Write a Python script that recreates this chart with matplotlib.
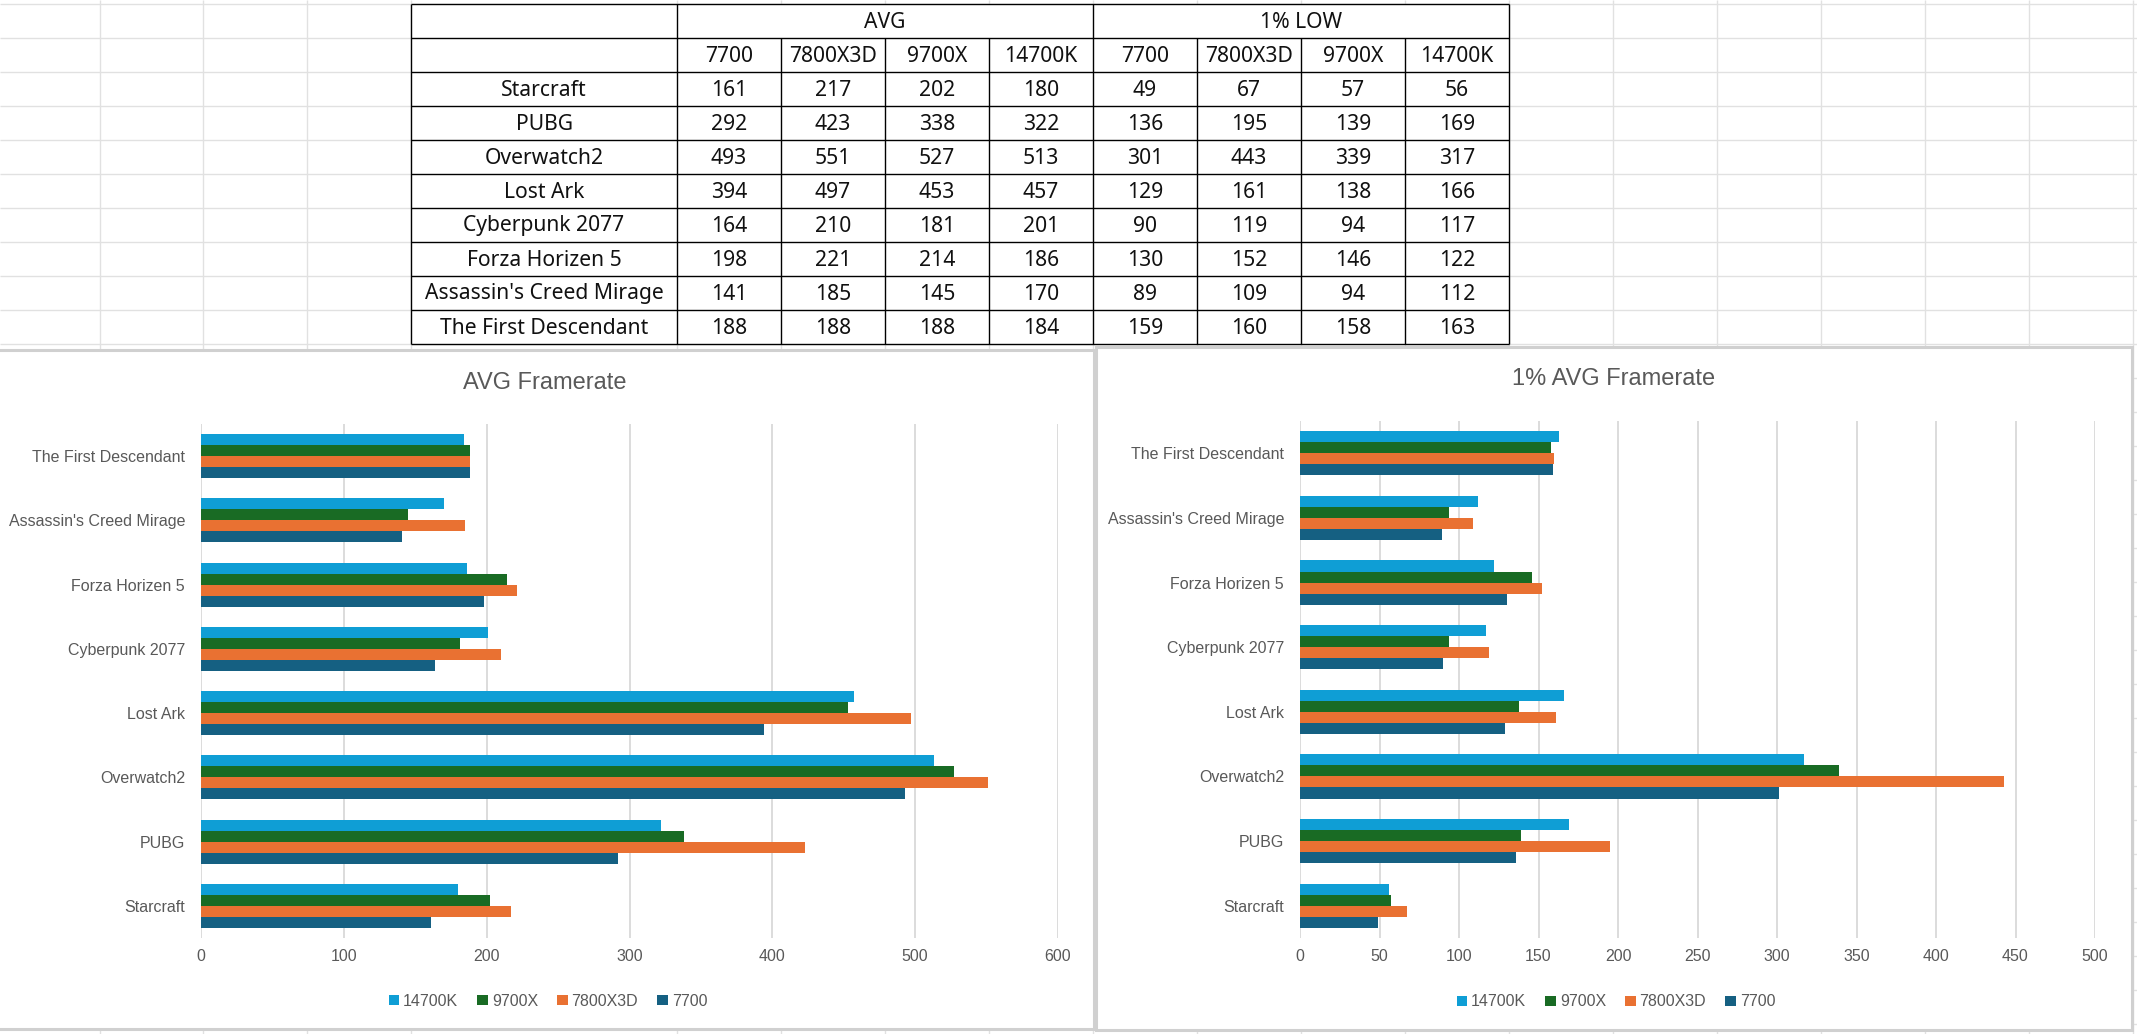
import matplotlib
matplotlib.use("Agg")
import matplotlib.pyplot as plt
from matplotlib.patches import Rectangle, Patch
from matplotlib import font_manager as fm
import numpy as np

# ---------------- data ----------------
games = ["Starcraft", "PUBG", "Overwatch2", "Lost Ark", "Cyberpunk 2077",
         "Forza Horizen 5", "Assassin's Creed Mirage", "The First Descendant"]
cpus = ["7700", "7800X3D", "9700X", "14700K"]

avg_7700 = [161, 292, 493, 394, 164, 198, 141, 188]
avg_7800x3d = [217, 423, 551, 497, 210, 221, 185, 188]
avg_9700x = [202, 338, 527, 453, 181, 214, 145, 188]
avg_14700k = [180, 322, 513, 457, 201, 186, 170, 184]

low_7700 = [49, 136, 301, 129, 90, 130, 89, 159]
low_7800x3d = [67, 195, 443, 161, 119, 152, 109, 160]
low_9700x = [57, 139, 339, 138, 94, 146, 94, 158]
low_14700k = [56, 169, 317, 166, 117, 122, 112, 163]

avg_ticks = [0, 100, 200, 300, 400, 500, 600]
low_ticks = [0, 50, 100, 150, 200, 250, 300, 350, 400, 450, 500]

table_groups = ["AVG", "1% LOW"]
chart_titles = ["AVG Framerate", "1% AVG Framerate"]

colors = {"7700": "#156082", "7800X3D": "#E97132", "9700X": "#196B24", "14700K": "#0F9ED5"}

avg_series = {"7700": avg_7700, "7800X3D": avg_7800x3d, "9700X": avg_9700x, "14700K": avg_14700k}
low_series = {"7700": low_7700, "7800X3D": low_7800x3d, "9700X": low_9700x, "14700K": low_14700k}

# ---------------- fonts ----------------
names = {f.name for f in fm.fontManager.ttflist}
chart_font = "Liberation Sans" if "Liberation Sans" in names else "DejaVu Sans"
table_font = "Noto Sans" if "Noto Sans" in names else "DejaVu Sans"
TXT = "#595959"

W, H = 2137, 1034
fig = plt.figure(figsize=(W / 100, H / 100), dpi=100)
fig.patch.set_facecolor("white")

# ---------------- spreadsheet background ----------------
bg = fig.add_axes([0, 0, 1, 1], zorder=0)
bg.set_xlim(0, W)
bg.set_ylim(H, 0)
bg.axis("off")

grid_c = "#e1e1e1"
col_edges = [100, 203, 307, 411, 677, 781, 885, 989, 1093, 1197, 1301, 1405,
             1509, 1613, 1717, 1821, 1925, 2029, 2133]
row_edges = np.arange(4, H, 34)
bg.vlines(col_edges, 0, H, color=grid_c, lw=1.0, zorder=1)
bg.hlines(row_edges, 0, W, color=grid_c, lw=1.0, zorder=1)

# table
t_left, t_right = 411, 1509
t_rows = row_edges[:11]  # 4 .. 344
data_cols = col_edges[4:13]  # 677 .. 1509
bg.add_patch(Rectangle((t_left, t_rows[0]), t_right - t_left, t_rows[-1] - t_rows[0],
                       facecolor="white", edgecolor="none", zorder=2))
lc = "black"
lw = 1.0
bg.hlines(t_rows, t_left, t_right, color=lc, lw=lw, zorder=3)
for x in [t_left, data_cols[0], data_cols[4], data_cols[8]]:
    bg.vlines(x, t_rows[0], t_rows[-1], color=lc, lw=lw, zorder=3)
for x in data_cols[1:4] + data_cols[5:8]:
    bg.vlines(x, t_rows[1], t_rows[-1], color=lc, lw=lw, zorder=3)

tfs = 15.2
tcol = "#111111"
for gi, g in enumerate(table_groups):
    cx = (data_cols[gi * 4] + data_cols[gi * 4 + 4]) / 2
    bg.text(cx, (t_rows[0] + t_rows[1]) / 2 + 1, g, ha="center", va="center",
            fontsize=tfs, family=table_font, color=tcol, zorder=4)
    for ci, c in enumerate(cpus):
        cx = (data_cols[gi * 4 + ci] + data_cols[gi * 4 + ci + 1]) / 2
        bg.text(cx, (t_rows[1] + t_rows[2]) / 2 + 1, c, ha="center", va="center",
                fontsize=tfs, family=table_font, color=tcol, zorder=4)

for ri, game in enumerate(games):
    cy = (t_rows[ri + 2] + t_rows[ri + 3]) / 2 + 1
    bg.text((t_left + data_cols[0]) / 2, cy, game, ha="center", va="center",
            fontsize=tfs, family=table_font, color=tcol, zorder=4)
    for gi, series in enumerate([avg_series, low_series]):
        for ci, c in enumerate(cpus):
            cx = (data_cols[gi * 4 + ci] + data_cols[gi * 4 + ci + 1]) / 2
            bg.text(cx, cy, str(series[c][ri]), ha="center", va="center",
                    fontsize=tfs, family=table_font, color=tcol, zorder=4)

# chart boxes
box_c = "#d0d0d0"
boxes = [(-3, 350, 1094, 1029), (1096, 347, 2132, 1030)]
for (x0, y0, x1, y1) in boxes:
    bg.add_patch(Rectangle((x0, y0), x1 - x0, y1 - y0, facecolor="white",
                           edgecolor=box_c, lw=2.2, zorder=5))


def frac(x0, y0, x1, y1):
    return [x0 / W, 1 - y1 / H, (x1 - x0) / W, (y1 - y0) / H]


plot_areas = [(201, 424, 1058, 938), (1300, 421, 2095, 938)]
title_pos = [(545, 383), (1614, 379)]
legend_pos = [(548, 1001), (1616, 1002)]

order = [("14700K", 1.5), ("9700X", 0.5), ("7800X3D", -0.5), ("7700", -1.5)]


def draw(ax, series, ticks, title, tpos, lpos):
    y = np.arange(len(games))
    h = 0.171
    for name, off in order:
        ax.barh(y + off * h, series[name], height=h, color=colors[name],
                linewidth=0, zorder=3)
    ax.set_xlim(ticks[0], ticks[-1])
    ax.set_ylim(-0.5, len(games) - 0.5)
    ax.set_xticks(ticks)
    ax.set_xticklabels([str(t) for t in ticks])
    ax.set_yticks(y)
    ax.set_yticklabels(games)
    ax.grid(axis="x", color="#d9d9d9", lw=1.3, zorder=0)
    ax.set_axisbelow(True)
    for s in ax.spines.values():
        s.set_visible(False)
    ax.tick_params(axis="both", length=0, labelsize=11.5, labelcolor=TXT)
    ax.tick_params(axis="x", pad=8)
    ax.tick_params(axis="y", pad=11.5)
    for lab in ax.get_xticklabels() + ax.get_yticklabels():
        lab.set_family(chart_font)
    ax.patch.set_alpha(0)
    bg.text(tpos[0], tpos[1], title, ha="center", va="center", fontsize=17,
            family=chart_font, color=TXT, zorder=6)
    handles = [Patch(facecolor=colors[n], edgecolor="none") for n, _ in order]
    ax.legend(handles, [n for n, _ in order], loc="center",
              bbox_to_anchor=(lpos[0] / W, 1 - lpos[1] / H),
              bbox_transform=fig.transFigure, ncol=4, frameon=False,
              handlelength=0.65, handleheight=0.65, handletextpad=0.25,
              columnspacing=1.2, prop={"family": chart_font, "size": 11.5},
              labelcolor=TXT)


for i, (series, ticks) in enumerate([(avg_series, avg_ticks), (low_series, low_ticks)]):
    ax = fig.add_axes(frac(*plot_areas[i]), zorder=2)
    draw(ax, series, ticks, chart_titles[i], title_pos[i], legend_pos[i])

fig.savefig("out.png", dpi=100, facecolor="white")
